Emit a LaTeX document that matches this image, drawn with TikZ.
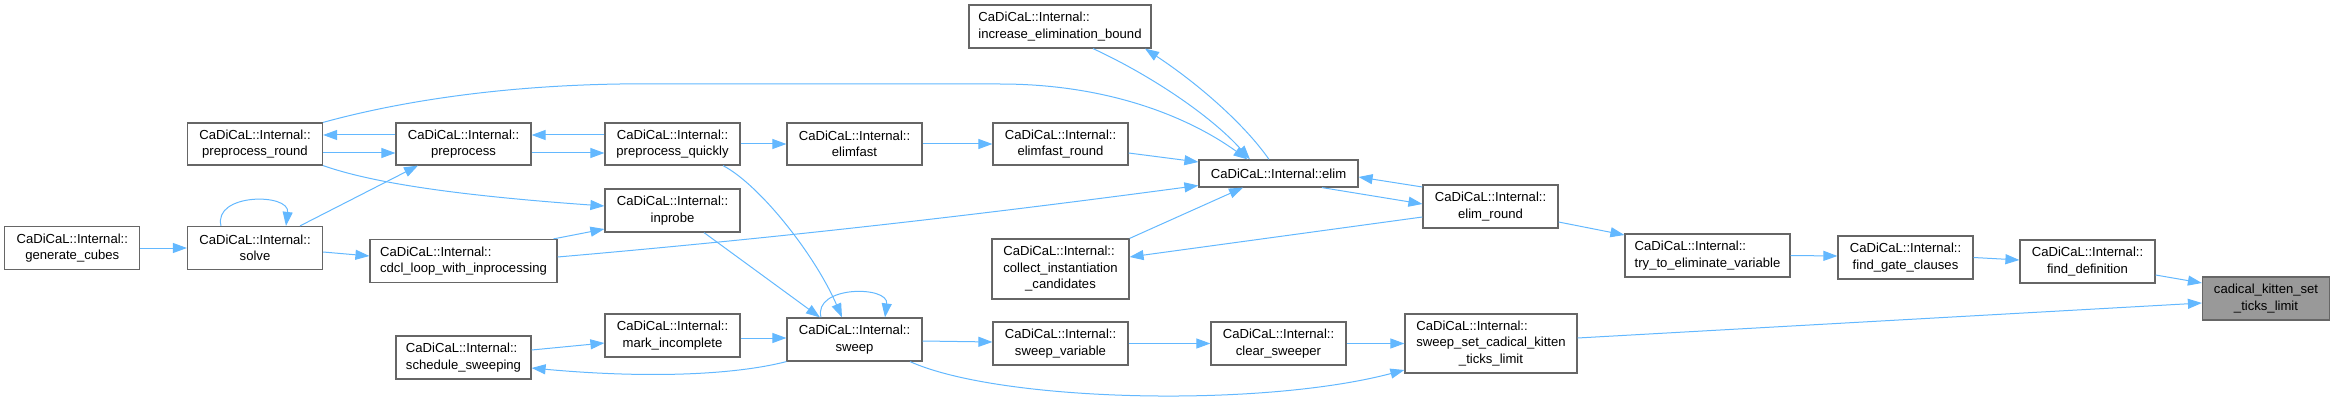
\documentclass[tikz,border=0pt]{standalone}
\usepackage{fontspec}
\setmainfont{Liberation Sans}
\usepackage{tikz}
\usetikzlibrary{arrows.meta}

\definecolor{edgeblue}{HTML}{63B8FF}
\definecolor{boxgray}{HTML}{666666}
\definecolor{selfgray}{HTML}{999999}

\begin{document}
\begin{tikzpicture}[x=1pt, y=-1pt, every node/.style={font=\fontsize{13.1}{16.3}\selectfont}]

\tikzstyle{fn} = [rectangle, draw=boxgray, line width=1.2pt, fill=white, text=black, inner sep=0pt, minimum width=135pt, minimum height=43pt, align=center]
\tikzstyle{fnleft} = [fn, align=left]
\tikzstyle{arrow} = [draw=edgeblue, line width=1pt, -{Triangle[length=14pt,width=10pt]}]

\useasboundingbox (0,0) rectangle (2335,401);

% left columns
\node[fn] (gencubes) at (72.3,248) {CaDiCaL::Internal::\\generate\_cubes};
\node[fn] (solve) at (255,248) {CaDiCaL::Internal::\\solve};
\node[fn, minimum height=42pt] (pround) at (255,144) {CaDiCaL::Internal::\\preprocess\_round};
\node[fn, minimum height=42pt] (prep) at (463.5,144) {CaDiCaL::Internal::\\preprocess};
\node[fnleft, minimum width=187pt] (cdcl) at (463.5,261) {CaDiCaL::Internal::\\cdcl\_loop\_with\_inprocessing};
\node[fnleft] (sched) at (463.5,357.5) {CaDiCaL::Internal::\\schedule\_sweeping};

% middle columns
\node[fn, minimum height=42pt] (pquick) at (672.5,144) {CaDiCaL::Internal::\\preprocess\_quickly};
\node[fn] (inprobe) at (672.5,210.5) {CaDiCaL::Internal::\\inprobe};
\node[fn] (markinc) at (672.5,335.5) {CaDiCaL::Internal::\\mark\_incomplete};
\node[fn, minimum height=42pt] (elimfast) at (854.5,144) {CaDiCaL::Internal::\\elimfast};
\node[fn] (sweep) at (854.5,339.5) {CaDiCaL::Internal::\\sweep};
\node[fnleft, minimum width=182pt] (incr) at (1060,26.5) {CaDiCaL::Internal::\\increase\_elimination\_bound};
\node[fn, minimum height=42pt] (efround) at (1060.5,144) {CaDiCaL::Internal::\\elimfast\_round};
\node[fn, minimum width=137pt, minimum height=60pt] (collect) at (1060.5,269)
  {\begin{tabular}{@{}l@{}}CaDiCaL::Internal::\\collect\_instantiation\\\multicolumn{1}{@{}c@{}}{\_candidates}\end{tabular}};
\node[fn] (sweepvar) at (1060.5,343.5) {CaDiCaL::Internal::\\sweep\_variable};

% right columns
\node[fn, minimum width=159pt, minimum height=27pt] (elim) at (1278.5,173.5) {CaDiCaL::Internal::elim};
\node[fn] (clear) at (1278.5,343.5) {CaDiCaL::Internal::\\clear\_sweeper};
\node[fn] (eround) at (1490.5,206.5) {CaDiCaL::Internal::\\elim\_round};
\node[fn, minimum width=172pt, minimum height=59pt] (sset) at (1491,343.5)
  {\begin{tabular}{@{}l@{}}CaDiCaL::Internal::\\sweep\_set\_cadical\_kitten\\\multicolumn{1}{@{}c@{}}{\_ticks\_limit}\end{tabular}};
\node[fnleft, minimum width=165pt] (try) at (1707.5,255.5) {CaDiCaL::Internal::\\try\_to\_eliminate\_variable};
\node[fn] (gate) at (1905.5,257.5) {CaDiCaL::Internal::\\find\_gate\_clauses};
\node[fn] (fdef) at (2087.5,261.5) {CaDiCaL::Internal::\\find\_definition};
\node[fn, minimum width=127pt, fill=selfgray] (kitten) at (2266,298.5) {cadical\_kitten\_set\\\_ticks\_limit};

% arrows
\draw[arrow] (gencubes) -- (solve);
\draw[arrow] ([xshift=-34pt]solve.north) .. controls +(-8,-33) and +(4,-33) .. ([xshift=31pt]solve.north);
\draw[arrow] ([xshift=45pt]solve.north) -- ([xshift=-45.5pt]prep.south);
\draw[arrow] ([yshift=-4pt]solve.east) -- ([yshift=5pt]cdcl.west);
\draw[arrow] ([yshift=9pt]prep.west) -- ([yshift=9pt]pround.east);
\draw[arrow] ([yshift=-9pt]pround.east) -- ([yshift=-9pt]prep.west);
\draw[arrow] (pround.north east) .. controls (390,104) and (490,86) .. (620,84) -- (1000,84)
  .. controls (1110,84) and (1190,118) .. ([xshift=-31pt]elim.north);
\draw[arrow] (pround.south east) .. controls (370,182) and (450,195) .. ([yshift=4.5pt]inprobe.west);
\draw[arrow] ([yshift=-9pt]prep.east) -- ([yshift=-9pt]pquick.west);
\draw[arrow] ([yshift=9pt]pquick.west) -- ([yshift=9pt]prep.east);
\draw[arrow] (pquick) -- (elimfast);
\draw[arrow] ([xshift=90pt]cdcl.north) -- ([yshift=-18.5pt]inprobe.west);
\draw[arrow] ([yshift=4pt]cdcl.east) .. controls (800,236) and (1000,212) .. ([yshift=-12pt]elim.west);
\draw[arrow] ([xshift=50.5pt]pquick.south) .. controls (760,185) and (815,255) .. ([xshift=-12.5pt]sweep.north);
\draw[arrow] ([xshift=31.5pt]inprobe.south) -- ([xshift=-34.5pt]sweep.north);
\draw[arrow] ([xshift=-33.5pt]sweep.north) .. controls +(-8,-32) and +(4,-32) .. ([xshift=30.5pt]sweep.north);
\draw[arrow] ([yshift=-2.5pt]markinc.east) -- ([yshift=1.5pt]sweep.west);
\draw[arrow] ([yshift=7.5pt]sched.east) -- ([yshift=-7.5pt]markinc.west);
\draw[arrow] (sweep.south west) .. controls (730,376) and (640,378) .. ([yshift=-10.5pt]sched.east);
\draw[arrow] (elimfast) -- (efround);
\draw[arrow] ([yshift=-1.5pt]sweep.east) -- ([yshift=1.5pt]sweepvar.west);
\draw[arrow] ([xshift=55.5pt]sweep.south) .. controls (1000,402) and (1260,408) .. ([yshift=-26.5pt]sset.west);
\draw[arrow] ([xshift=33pt]incr.south) .. controls (1150,75) and (1210,115) .. ([xshift=-28.5pt]elim.north);
\draw[arrow] ([xshift=-9.5pt]elim.north) .. controls (1245,125) and (1200,85) .. ([xshift=85pt]incr.south);
\draw[arrow] ([yshift=-9pt]efround.east) -- ([yshift=11.5pt]elim.west);
\draw[arrow] (collect.north east) -- ([xshift=-35.5pt]elim.south);
\draw[arrow] ([xshift=43.5pt]elim.south) -- ([yshift=2.5pt]eround.west);
\draw[arrow] ([yshift=19.5pt]eround.west) -- ([yshift=-3.5pt]elim.east);
\draw[arrow] ([yshift=-10.5pt]eround.west) -- ([yshift=12pt]collect.east);
\draw[arrow] (sweepvar) -- (clear);
\draw[arrow] (clear) -- (sset);
\draw[arrow] ([yshift=-15.5pt]eround.east) -- ([yshift=20.5pt]try.west);
\draw[arrow] (try.east) -- ([yshift=1.5pt]gate.west);
\draw[arrow] ([yshift=5.5pt]sset.east) -- ([yshift=-4.5pt]kitten.west);
\draw[arrow] (gate.east) -- ([yshift=1.5pt]fdef.west);
\draw[arrow] ([yshift=-13.5pt]fdef.east) -- ([yshift=15.5pt]kitten.west);

\end{tikzpicture}
\end{document}
